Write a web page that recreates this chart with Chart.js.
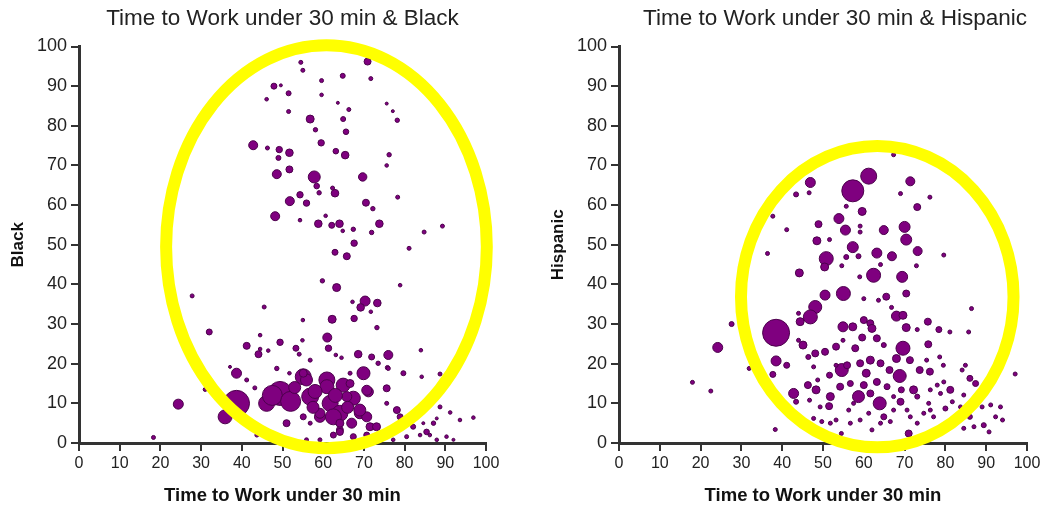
<!DOCTYPE html>
<html>
<head>
<meta charset="utf-8">
<title>Time to Work under 30 min</title>
<script src="https://cdn.jsdelivr.net/npm/chart.js@4.4.1/dist/chart.umd.min.js"></script>
<style>
  html, body { margin: 0; padding: 0; background: #fff; }
  #wrap { position: relative; width: 1046px; height: 510px; }
  .box { position: absolute; top: 0; width: 523px; height: 510px; }
</style>
</head>
<body>
<div id="wrap">
  <div class="box" style="left:0"><canvas id="black" width="523" height="510"></canvas></div>
  <div class="box" style="left:523px"><canvas id="hisp" width="523" height="510"></canvas></div>
</div>
<script>
// x = % time to work under 30 min, y = % of group, r = bubble size (population)
const blackX = [54.5,55,70.9,59.6,64.8,71.7,47.9,49.6,51.5,59.6,46.1,63.6,66.3,75.6,77.1,78.2,51.5,56.8,64.9,58.1,
  65.6,42.8,46.3,49.2,51.7,49,59.5,63.1,65.4,76.2,75.6,48.6,51.7,57.8,58.4,69.7,54.3,59,62.9,62.3,
  51.8,55.9,70.5,72.2,78.3,48.2,54.3,58.8,60.6,62.1,64,64.8,67.4,71.9,73.8,84.8,89.3,81.1,67.6,62.9,
  65.8,59.8,63.3,78.9,70.3,73.3,69.2,67.2,71.7,62.2,67.6,55,73.2,61,61.3,54.9,49.4,53.3,54.1,63.1,
  64.5,68.6,71.9,76,73.5,84,48.6,56.8,75.8,79.7,84.2,88.7,51.7,69.9,75.6,71.1,66.6,55.1,60.9,64.9,
  49.4,56.8,61.7,67.4,64.1,69,59.2,71.5,64.1,51,55.1,75.6,78.1,78.9,18.3,24.4,27.8,32,41.2,44.1,
  44.5,45.5,44.5,38.7,41.2,43.2,38.7,35.9,43.7,46.1,31,46.5,37.1,76,88.7,91.2,93.6,96.9,82.1,85.4,
  87.1,90.3,86.2,80.5,83.8,87.9,92,77.2,87.9,81.3,84.6,47.5,52,56.8,55.9,59.2,62.5,64.1,67.4,70.7,
  73.1,70.7,69,70.7,66.6,65.8,60.9,55.9,62.5,59.2,64.1,55.1,58,63,67,53,66,57.5];
const blackY = [96,94,96.2,91.4,92.6,91.9,90,90.2,88.2,87.8,86.7,85.8,84.1,85.6,83.7,81.4,83.6,81.7,81.7,79,
  78.5,75.1,74.4,74,73.2,71.9,75.7,73.6,72.6,72.7,70,67.8,69,67.1,64.8,67.1,62.6,63.1,63,64.3,
  61,60.5,60.6,59.1,62,57.2,56.2,55.3,57.3,54.9,55.3,53.5,53.9,53.1,55.3,53.2,54.7,49.1,50.4,48.1,
  47.1,40.9,39.2,39.8,35.8,35.3,34.2,35.6,33.1,31.2,31.4,31,29.1,26.6,23.9,25.9,25.4,23.9,22.4,22.2,
  21.5,22.4,21.7,22.2,20.1,23.4,18.8,20.9,19,17.6,16.7,17.4,17.6,17.6,13.8,12.9,17.6,16.7,15.9,14.6,
  12.5,11.7,10,11.3,7.5,7.5,6.6,4.1,3.3,5,6.6,10,8.3,6.6,1.4,9.8,37.1,28,24.5,22.4,
  23.7,34.3,27.2,17.6,15.9,13.9,10,6.6,2,10,13.5,23.3,19.2,18.8,9.1,7.7,5.8,6.4,4.1,2.8,
  5,1.6,2,1.6,2,0.8,0.8,0.8,6.2,5,5,12,10.5,5,0.8,0.8,2,2.8,1.6,2,
  4.1,6.6,8.3,13.3,15,11.7,14.2,15.9,6.6,7.5,5,17.6,13,12,5,14,9,9];
const blackR = [2,2,3.5,2,2.5,2,3,1.5,2.5,1.8,1.8,1.5,2,1.5,1.5,2.2,2,4,2.5,2.2,
  2.8,4.5,2,3.2,3.8,2.5,3.2,2.8,3.8,2.2,1.8,4.5,3.5,6,2.8,4.2,3.2,2.2,3.8,2,
  4.5,3.2,3.5,2.2,2,4.5,1.8,3.8,1.8,3,3.8,1.8,2.2,2.2,3.8,2,2,2,3.2,3,
  3.5,2.2,4,1.8,5,3.8,3.8,1.8,1.8,4,3.2,1.8,2.2,4.5,3.2,1.8,3.2,3,2,1.8,
  1.8,3.8,3,4.5,2.2,1.8,2.2,2,2.2,2.5,1.8,2,1.8,6.5,3.5,5,2,8,8,7,
  12,8.5,8,7,8,5.5,5.5,4,3.5,3.5,3,2,3.5,3,2,5,2,3,3.5,3.5,
  1.8,2,1.8,5,2,2,13,7,2,8,2,1.8,1.5,2,2,1.8,1.8,1.8,2.5,2.8,
  2.2,1.8,1.8,2,1.8,1.8,1.5,1.8,1.5,1.8,1.5,10,10,2,2,2,3,3.5,3,3,
  4,5,6,5,4,5,7,6,8,5,4,4,7,7,5,6,6,6];

const hispX = [67.3,61.2,57.3,46.9,71.4,43.4,46.6,69,76.2,55.7,59.6,73.1,37.7,53.9,48.9,41.1,55.5,59.1,59.1,64.9,
  70,70.4,48.5,51.6,57.3,73.2,36.4,50.8,55.7,58.7,63.2,66.9,79.6,50.4,54.6,44.2,62.4,69.4,72.9,59,
  64.1,70.4,65.5,60,63.6,55,50.5,48.1,46.9,44.4,44,38.5,27.6,24.2,38.5,41.1,37.7,31.9,18,22.5,
  38.3,45.1,44,46.4,48.1,50.5,47.7,53.2,54.9,54.9,57.3,60,61.6,62,59.6,63.2,64.9,57.9,68,69.6,
  66.8,70.4,73.1,75.7,78.4,81.1,85.7,86.4,75.8,69.6,68,71.3,68.8,66.3,73.7,76.2,75.4,78.6,79.5,84.9,
  84.1,86,87.4,79.6,81.2,72.2,69.2,69,63.9,58.7,61.6,60,60.6,59.1,61.6,64.1,63.2,65.7,54.6,55.9,
  54.2,56.7,51.8,48.3,46.3,42.8,43.4,48.7,51.6,53.2,46.7,49.3,51.5,47.7,49.7,51.8,53.2,56.3,54.5,56.7,
  59.1,62,64.9,67.3,70.6,71,73.1,71.4,74.7,76.3,75.9,77.1,80,81.7,83.7,84.5,86,87,89,89.4,
  90.7,91.1,92.3,93.5,94,97.1,87.8,84.5,78.8,76.3,78,64.1,66.5,61.2,57.5,73.1,67.3];
const hispY = [72.7,67.3,63.6,65.7,66,62.7,63.1,62.9,62,59.7,58.4,59.5,57.2,56.6,55.2,53.8,53.7,54.7,53.2,53.7,
  54.5,51.3,51,51.3,49.4,48.4,47.8,46.5,46.9,47.1,47.9,47.1,47.4,44.4,44.7,42.9,42.3,41.9,44.7,41.9,
  45,37.7,36.9,36.4,36,37.7,37.3,34.3,31.8,30.6,32.7,27.8,30,24.1,20.7,19.6,17.3,18.8,15.3,13.1,
  3.4,24.7,25.9,21.7,22.6,23,19.2,24.3,25.9,29.3,29.3,31,30.2,28.9,26.6,26.4,24.7,23.9,32,32.2,
  34.2,29.1,28.6,30.6,28.6,28,28,33.9,24.9,23.9,21.3,20.9,16.9,18.4,18.4,18,20.9,21.7,19.6,19.6,
  18.4,16.3,15,15.4,13.4,13.4,13.4,10.4,10,11.7,12.5,14.6,17.6,20.1,20.9,20.1,15.4,14.2,18.4,19.6,
  14.2,15,11.7,13.4,14.6,12.5,10.4,15.9,17.1,19.6,10.8,9.1,9.3,6.2,5.4,5,5.8,8.3,2.4,5,
  5.8,3.3,6.6,8.3,8.3,2.4,5,6.6,7.5,8.3,10,6.6,8.7,10.4,9.1,3.7,6.6,4.1,9.1,4.5,
  2.8,9.6,6.6,9.1,5.8,17.4,12.1,12.1,12.5,13.4,14.6,5,5.4,7.5,10,11.7,11.7];
const hispR = [2,8,11,5,4.5,2.5,2,2,2,2,4,3.5,2,5,3.5,2,5,2,2,4.5,
  5.5,5.5,4,2,5.5,4.5,2,7,2.5,2.5,5,4.5,2,4,2,4,7,5.5,2,2,
  2,3.5,3.5,2,2,7,5,6.5,7,4,2,13.5,2.5,5,5,3,3,2,2,2,
  2,4,2,2.5,3.5,3.5,2,3.5,2,5,4,3.5,3.5,4,3.5,3.5,2.5,3.5,5,4,
  2,4,2,3.5,3,2,2,2,3.5,7,4,3.5,6.5,3.5,3.5,3.5,2,2,2,2,
  2,3,3,2,3.5,4,3,3.5,6.5,6,3.5,3.5,4,3.5,4,3.5,3.5,3,6.5,3.5,
  3.5,3,4,4,3.5,5,2.5,2,3,2,2,2,3.5,2,2,2,2,2,2,2,
  2,2,3,2,2,3.5,2,2,2,2,2,2,2.5,2,2,2,2.5,2,2,2.5,
  2,2,2,2,2,2,2,2,2,2,2,2,2,2,2,2.5,2];

const xTicks = [0, 10, 20, 30, 40, 50, 60, 70, 80, 90, 100];
const yTicks = [0, 10, 20, 30, 40, 50, 60, 70, 80, 90, 100];

const FONT = "'Liberation Sans', Arial, sans-serif";

// yellow ring drawn on top, given in data units
const ringPlugin = {
  id: 'ring',
  afterDraw(chart, args, opts) {
    const { x, y } = chart.scales;
    const ctx = chart.ctx;
    const cx = x.getPixelForValue(opts.cx);
    const cy = y.getPixelForValue(opts.cy);
    const rx = Math.abs(x.getPixelForValue(opts.cx + opts.rx) - cx);
    const ry = Math.abs(y.getPixelForValue(opts.cy + opts.ry) - cy);
    ctx.save();
    ctx.beginPath();
    ctx.ellipse(cx, cy, rx, ry, 0, 0, Math.PI * 2);
    ctx.lineWidth = 12;
    ctx.strokeStyle = '#ffff00';
    ctx.stroke();
    ctx.restore();
  }
};

function makeChart(id, cfg) {
  const points = cfg.xs.map((v, i) => ({ x: v, y: cfg.ys[i], r: cfg.rs[i] }));
  return new Chart(document.getElementById(id), {
    type: 'bubble',
    data: {
      datasets: [{
        label: cfg.yTitle,
        data: points,
        backgroundColor: '#7f007f',
        borderColor: '#4c004c',
        borderWidth: 1
      }]
    },
    options: {
      responsive: false,
      animation: false,
      events: [],
      layout: { padding: { left: 0, right: cfg.padRight, top: 0, bottom: 0 } },
      scales: {
        x: {
          type: 'linear',
          min: 0,
          max: 100,
          afterBuildTicks(s) { s.ticks = xTicks.map(v => ({ value: v })); },
          afterFit(s) { s.height = 67; },
          ticks: { color: '#222', font: { family: FONT, size: 16 }, padding: 3 },
          grid: { display: true, drawOnChartArea: false, drawTicks: true, tickLength: 8, color: '#333', lineWidth: 2 },
          border: { display: true, color: '#333', width: 3 },
          title: {
            display: true,
            text: 'Time to Work under 30 min',
            color: '#111',
            font: { family: FONT, size: 18.5, weight: 'bold' },
            padding: { top: 0, bottom: 3 }
          }
        },
        y: {
          type: 'linear',
          min: 0,
          max: 100,
          afterBuildTicks(s) { s.ticks = yTicks.map(v => ({ value: v })); },
          afterFit(s) { s.width = cfg.yWidth; },
          ticks: { color: '#222', font: { family: FONT, size: 18 }, padding: 4 },
          grid: { display: true, drawOnChartArea: false, drawTicks: true, tickLength: 8, color: '#333', lineWidth: 2 },
          border: { display: true, color: '#333', width: 3 },
          title: {
            display: true,
            text: cfg.yTitle,
            color: '#111',
            font: { family: FONT, size: 17, weight: 'bold' },
            padding: { top: cfg.yTitlePad, bottom: 0 }
          }
        }
      },
      plugins: {
        legend: { display: false },
        tooltip: { enabled: false },
        title: {
          display: true,
          text: cfg.title,
          align: cfg.titleAlign,
          fullSize: false,
          color: '#222',
          font: { family: FONT, size: 22.5, weight: 'normal' },
          padding: { top: 5, bottom: 14.5 }
        },
        ring: cfg.ring
      }
    },
    plugins: [ringPlugin]
  });
}

makeChart('black', {
  xs: blackX, ys: blackY, rs: blackR,
  title: 'Time to Work under 30 min & Black',
  titleAlign: 'center',
  yTitle: 'Black',
  yTitlePad: 8,
  yWidth: 79,
  padRight: 37,
  ring: { cx: 60.8, cy: 49.5, rx: 39.4, ry: 50.8 }
});

makeChart('hisp', {
  xs: hispX, ys: hispY, rs: hispR,
  title: 'Time to Work under 30 min & Hispanic',
  titleAlign: 'end',
  yTitle: 'Hispanic',
  yTitlePad: 25,
  yWidth: 96,
  padRight: 19,
  ring: { cx: 63.3, cy: 36.9, rx: 33.4, ry: 38 }
});
</script>
</body>
</html>
